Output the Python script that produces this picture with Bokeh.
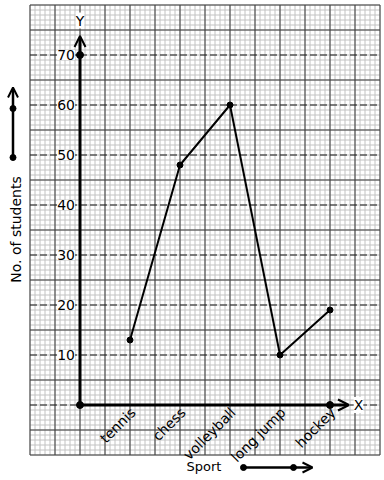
import numpy as np
from bokeh.plotting import figure
from bokeh.models import Arrow, OpenHead, LabelSet, ColumnDataSource, Range1d, Label
from bokeh.core.properties import value
from bokeh.embed import file_html
from bokeh.resources import INLINE

# ---- data ----
categories = ["tennis", "chess", "volleyball", "long jump", "hockey"]
students = [13, 48, 60, 10, 19]
y_ticks = [10, 20, 30, 40, 50, 60, 70]
y_tick_labels = ["10", "20", "30", "40", "50", "60", "70"]
x_label = "Sport"
y_label = "No. of students"

positions = list(range(1, len(categories) + 1))

FONT = "DejaVu Sans"
MINOR = "#c2c2c2"
MAJOR = "#3c3c3c"

p = figure(width=384, height=480,
           x_range=Range1d(-1.59, 6.09), y_range=Range1d(-15.1, 80.9),
           output_backend="svg", toolbar_location=None, min_border=0,
           x_axis_location=None, y_axis_location=None)
p.outline_line_color = None
p.grid.grid_line_color = None
p.background_fill_color = "white"

# ---- graph paper ----
gx0, gx1, gy0, gy1 = -1, 6, -10, 80
minor_x = np.round(np.arange(gx0, gx1 + 1e-6, 0.1), 3)
minor_y = np.arange(gy0, gy1 + 1, 1)
p.segment(x0=minor_x, y0=gy0, x1=minor_x, y1=gy1, line_color=MINOR, line_width=1)
p.segment(x0=gx0, y0=minor_y, x1=gx1, y1=minor_y, line_color=MINOR, line_width=1)

major_x = np.round(np.arange(gx0, gx1 + 1e-6, 0.5), 3)
dashed_y = [0] + y_ticks
major_y = [v for v in range(gy0, gy1 + 1, 5) if v not in dashed_y]
p.segment(x0=major_x, y0=gy0, x1=major_x, y1=gy1, line_color=MAJOR, line_width=1)
p.segment(x0=gx0, y0=major_y, x1=gx1, y1=major_y, line_color=MAJOR, line_width=1)
p.segment(x0=gx0, y0=dashed_y, x1=gx1, y1=dashed_y, line_color="#1a1a1a", line_width=1.2,
          line_dash="7 3")

# ---- axes with arrows ----
p.add_layout(Arrow(end=OpenHead(size=11, line_width=2, line_color="black"),
                   x_start=0, y_start=0, x_end=0, y_end=73.8,
                   line_width=3, line_color="black"))
p.add_layout(Arrow(end=OpenHead(size=11, line_width=2, line_color="black"),
                   x_start=0, y_start=0, x_end=5.38, y_end=0,
                   line_width=3, line_color="black"))

# axis end labels
p.add_layout(Label(x=0, y=76.9, text="Y", text_align="center", text_baseline="middle",
                   text_font=FONT, text_font_size="14px", text_color="black",
                   background_fill_color="white"))
p.add_layout(Label(x=5.57, y=0, text="X", text_align="center", text_baseline="middle",
                   text_font=FONT, text_font_size="14px", text_color="black",
                   background_fill_color="white"))

# y tick labels
tick_src = ColumnDataSource(dict(y=y_ticks, text=y_tick_labels))
p.add_layout(LabelSet(x=0, y="y", text="text", source=tick_src, x_offset=-5,
                      text_align="right", text_baseline="middle",
                      text_font=value(FONT), text_font_size="14px",
                      text_color="black", background_fill_color="white"))

# category labels
p.text(x=positions, y=[0] * len(positions), text=categories, angle=np.pi / 4,
       x_offset=3, y_offset=5, text_align="right", text_baseline="middle",
       text_font=value(FONT), text_font_size="14px", text_color="black")

# axis titles
p.text(x=[2.48], y=[-12.3], text=[x_label], text_align="center", text_baseline="middle",
       text_font=value(FONT), text_font_size="13px", text_color="black")
p.text(x=[-1.28], y=[35.1], text=[y_label], angle=np.pi / 2, text_align="center",
       text_baseline="alphabetic", text_font=value(FONT), text_font_size="14px",
       text_color="black")

# direction arrows next to titles
p.add_layout(Arrow(end=OpenHead(size=10, line_width=2, line_color="black"),
                   x_start=-1.34, y_start=49.5, x_end=-1.34, y_end=63.5,
                   line_width=2.5, line_color="black"))
p.scatter(x=[-1.34, -1.34], y=[49.5, 59.3], size=6, color="black")
p.add_layout(Arrow(end=OpenHead(size=10, line_width=2, line_color="black"),
                   x_start=3.27, y_start=-12.5, x_end=4.65, y_end=-12.5,
                   line_width=2.5, line_color="black"))
p.scatter(x=[3.27, 4.27], y=[-12.5, -12.5], size=6, color="black")

# ---- data line ----
p.line(x=positions, y=students, line_width=2, line_color="black")
p.scatter(x=positions, y=students, size=6, color="black")
p.scatter(x=[0, 0, positions[-1]], y=[0, y_ticks[-1], 0], size=7, color="black")

open("out.html", "w").write(file_html(p, INLINE))
